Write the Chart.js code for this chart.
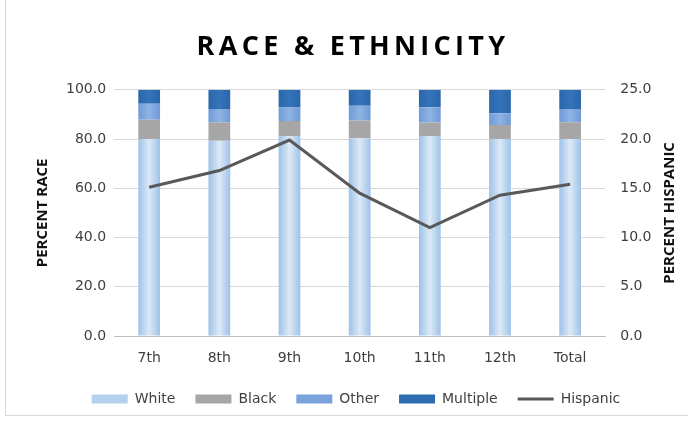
<!DOCTYPE html>
<html>
<head>
<meta charset="utf-8">
<script src="https://cdn.jsdelivr.net/npm/chart.js@4"></script>
<style>
  html, body { margin: 0; padding: 0; background: #fff; }
  #wrap { position: relative; width: 688px; height: 421px; }
  #frame { position: absolute; left: 5px; top: -2px; width: 700px; height: 416px; border: 1px solid #d9d9d9; pointer-events: none; }
</style>
</head>
<body>
<div id="wrap">
  <canvas id="chart" width="688" height="421"></canvas>
  <div id="frame"></div>
</div>
<script>
// data
const categories = ['7th', '8th', '9th', '10th', '11th', '12th', 'Total'];
const white = [80.0, 79.3, 81.2, 80.3, 81.2, 80.0, 80.0];
const black = [7.8, 7.4, 6.1, 7.2, 5.5, 5.7, 6.8];
const other = [6.5, 5.5, 5.5, 6.0, 6.2, 4.8, 5.4];
const multiple = [5.7, 7.8, 7.2, 6.5, 7.1, 9.5, 7.8];
const hispanic = [15.1, 16.8, 19.9, 14.5, 11.0, 14.3, 15.4];
const raceTicks = [0, 20, 40, 60, 80, 100];
const hispTicks = [0, 5, 10, 15, 20, 25];

const font = "'DejaVu Sans', sans-serif";
const titleFont = "'Open Sans', sans-serif";
const titleText = 'RACE & ETHNICITY';

// horizontal gradient per bar, like the office style
function barFill(edge, mid) {
    return function(ctx) {
        const chart = ctx.chart;
        if (!chart.chartArea || ctx.type !== 'data') return edge;
        const x = chart.scales.x.getPixelForValue(ctx.dataIndex);
        const g = chart.ctx.createLinearGradient(x - 11, 0, x + 11, 0);
        g.addColorStop(0, edge);
        g.addColorStop(0.5, mid);
        g.addColorStop(1, edge);
        return g;
    };
}

const legendColors = ['#b4d0ee', '#a6a6a6', '#7aa3db', '#2e6cb0', '#595959'];

// title with letter spacing, and right title reading bottom to top
const extraText = {
    id: 'extraText',
    afterDraw(chart) {
        const ctx = chart.ctx;
        const tb = chart.titleBlock;
        ctx.save();
        ctx.font = 'bold 27px ' + titleFont;
        ctx.letterSpacing = '4.3px';
        ctx.fillStyle = '#000';
        ctx.textAlign = 'center';
        ctx.textBaseline = 'middle';
        ctx.fillText(titleText, (tb.left + tb.right) / 2 - 3, tb.top + 17.4);
        ctx.restore();

        const s = chart.scales.y1;
        ctx.save();
        ctx.translate(s.right - 12, (chart.chartArea.top + chart.chartArea.bottom) / 2);
        ctx.rotate(-Math.PI / 2);
        ctx.font = 'bold 15px ' + titleFont;
        ctx.fillStyle = '#111';
        ctx.textAlign = 'center';
        ctx.textBaseline = 'middle';
        ctx.fillText('PERCENT HISPANIC', 0, 0);
        ctx.restore();
    }
};

new Chart(document.getElementById('chart'), {
    type: 'bar',
    data: {
        labels: categories,
        datasets: [
            { label: 'White', data: white, backgroundColor: barFill('#9cc2e8', '#dde9f6'), yAxisID: 'y', order: 1, pointStyle: 'rect' },
            { label: 'Black', data: black, backgroundColor: '#a6a6a6', yAxisID: 'y', order: 1, pointStyle: 'rect' },
            { label: 'Other', data: other, backgroundColor: barFill('#6f9ad6', '#8fb4e4'), yAxisID: 'y', order: 1, pointStyle: 'rect' },
            { label: 'Multiple', data: multiple, backgroundColor: barFill('#2a66aa', '#3574bb'), yAxisID: 'y', order: 1, pointStyle: 'rect' },
            { type: 'line', label: 'Hispanic', data: hispanic, borderColor: '#595959', backgroundColor: '#595959', borderWidth: 3, pointRadius: 0, yAxisID: 'y1', order: 0, pointStyle: 'line' }
        ]
    },
    options: {
        responsive: false,
        animation: false,
        datasets: { bar: { categoryPercentage: 1, barPercentage: 0.31 } },
        layout: { padding: { left: 30, right: 6, top: 30, bottom: 5 } },
        plugins: {
            title: {
                display: true,
                text: titleText,
                color: 'rgba(0,0,0,0)',
                font: { family: titleFont, size: 29, weight: 'bold' },
                padding: { top: 0, bottom: 25 }
            },
            legend: {
                position: 'bottom',
                labels: {
                    usePointStyle: true,
                    pointStyleWidth: 36,
                    boxHeight: 9,
                    padding: 20,
                    color: '#404040',
                    font: { family: font, size: 14 },
                    sort: (a, b) => a.datasetIndex - b.datasetIndex,
                    generateLabels(chart) {
                        const items = Chart.defaults.plugins.legend.labels.generateLabels(chart);
                        items.forEach(it => {
                            const c = legendColors[it.datasetIndex];
                            it.fillStyle = c;
                            it.strokeStyle = c;
                            it.lineWidth = it.datasetIndex === 4 ? 3 : 0;
                        });
                        return items;
                    }
                }
            },
            tooltip: { enabled: false }
        },
        scales: {
            x: {
                stacked: true,
                grid: { display: false, drawTicks: false },
                border: { color: '#bfbfbf', width: 1 },
                ticks: { color: '#404040', font: { family: font, size: 14 }, padding: 14 },
                afterFit(scale) { scale.height = 36; }
            },
            y: {
                stacked: true,
                position: 'left',
                min: 0,
                max: 100,
                afterBuildTicks(axis) { axis.ticks = raceTicks.map(v => ({ value: v })); },
                grid: { color: '#d9d9d9', drawTicks: false },
                border: { display: false },
                ticks: { color: '#404040', font: { family: font, size: 14 }, padding: 8, callback: v => v.toFixed(1) },
                title: { display: true, text: 'PERCENT RACE', color: '#111', font: { family: titleFont, size: 15, weight: 'bold' }, padding: { top: 4, bottom: 6 } }
            },
            y1: {
                position: 'right',
                min: 0,
                max: 25,
                afterBuildTicks(axis) { axis.ticks = hispTicks.map(v => ({ value: v })); },
                grid: { display: false, drawTicks: false },
                border: { display: false },
                ticks: { color: '#404040', font: { family: font, size: 14 }, padding: 15, callback: v => v.toFixed(1) },
                title: { display: true, text: 'PERCENT HISPANIC', color: 'rgba(0,0,0,0)', font: { family: titleFont, size: 13, weight: 'bold' }, padding: { top: 0, bottom: 0 } }
            }
        }
    },
    plugins: [extraText]
});
</script>
</body>
</html>
